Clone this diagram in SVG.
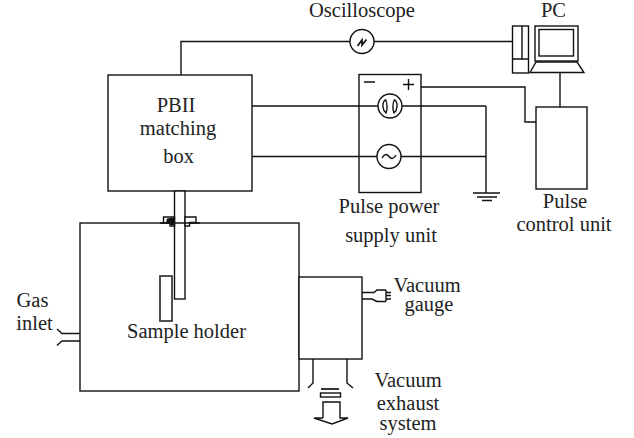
<svg xmlns="http://www.w3.org/2000/svg" width="634" height="438" viewBox="0 0 634 438">
<style>
text{font-family:"Liberation Serif","Times New Roman",serif;font-size:20.500px;fill:#222;text-anchor:middle}
.l{fill:none;stroke:#111;stroke-width:1.400}
.f{fill:#fff;stroke:#111;stroke-width:1.400}
</style>
<rect width="634" height="438" fill="#fff"/>
<g id="connectors">
<path class="l" d="M181 75V41.500H513"/>
<path class="l" d="M252 106H486M252 156.500H486M486 106V193"/>
<path class="l" d="M421 87H525V122H536"/>
<path class="l" d="M560 73V107"/>
<path class="l" d="M473 193H500M477 197H497M482 200.500H492"/>
</g>
<g id="oscilloscope">
<text x="362" y="17">Oscilloscope</text>
<circle class="f" cx="362" cy="41.500" r="12"/>
<path class="l" d="M357.500 46L362 40V45L366.500 39.500" style="stroke-width:1.700"/>
</g>
<g id="pc">
<text x="553.500" y="17">PC</text>
<rect class="f" x="512.500" y="26" width="16" height="47"/>
<path class="l" d="M522 26V59M512.500 59H528.500"/>
<rect class="f" x="535" y="26" width="43" height="35"/>
<rect class="f" x="539" y="29.500" width="34.500" height="26.500"/>
<path class="f" d="M536 62H577L584 72.500H530Z"/>
</g>
<g id="pbii">
<rect class="f" x="108" y="75" width="144" height="116"/>
<text x="176" y="112">PBII</text>
<text x="178" y="135">matching</text>
<text x="178.500" y="163">box</text>
</g>
<g id="power">
<rect class="l" x="359" y="74.500" width="62" height="118"/>
<circle class="f" cx="390" cy="106" r="12"/>
<circle class="f" cx="389" cy="156.500" r="12"/>
<path class="l" d="M364 82H375M403 84.500H414M408.500 79V90"/>
<path class="l" d="M385.500 99.500C381.500 103 382.500 110 386 113C387.500 110 387.500 103 385.500 99.500M394.500 99.500C398.500 103 397.500 110 394 113C392.500 110 392.500 103 394.500 99.500"/>
<path class="l" d="M382 158C385 153 387 154 389 156.500C391 159 393 160 396 155"/>
<text x="389" y="213">Pulse power</text>
<text x="391" y="242">supply unit</text>
</g>
<g id="pulse">
<rect class="f" x="536" y="107" width="51" height="82"/>
<text x="565" y="208">Pulse</text>
<text x="564" y="231">control unit</text>
</g>
<g id="chamber">
<rect class="l" x="80" y="223" width="219" height="168"/>
<rect class="f" x="174.500" y="191" width="10.500" height="108"/>
<rect class="f" x="160" y="276" width="12" height="45" style="stroke:#333;stroke-width:1.700"/>
<path class="f" d="M163.500 217H174.500V226H170V223H163.500Z"/>
<path d="M167 218.500L174 217.500V225H170.500V222.500H166Z" fill="#111"/>
<path class="f" d="M185 217H196V222.500H189.500V226H185Z"/>
<path class="l" d="M160 223H200"/>
<text x="186.500" y="338">Sample holder</text>
</g>
<g id="gas">
<text x="32.500" y="307">Gas</text>
<text x="34.500" y="330">inlet</text>
<path class="l" d="M57 329L62 333.500H80M57 345.500L62 341H80"/>
</g>
<g id="gauge">
<rect class="f" x="299" y="277" width="63" height="82"/>
<path class="l" d="M362 292.500H374L377 290H386M362 299H372L377 301.500H386M386 290V301.500M386 292.500H391M386 295.500H391M386 299H391"/>
<text><tspan x="427" y="292">Vacuum</tspan><tspan x="429" y="311">gauge</tspan></text>
</g>
<g id="exhaust">
<path class="l" d="M313 359V383L308 388M347 359V383L353 388"/>
<path class="l" d="M321 389H339" style="stroke-width:1.700"/>
<rect class="f" x="320.500" y="393" width="20" height="4"/>
<path class="l" d="M323 418V402H340V418H348L332 424L314 418H323"/>
<text><tspan x="408" y="387">Vacuum</tspan><tspan x="408" y="410">exhaust</tspan><tspan x="408" y="430">system</tspan></text>
</g>
</svg>
